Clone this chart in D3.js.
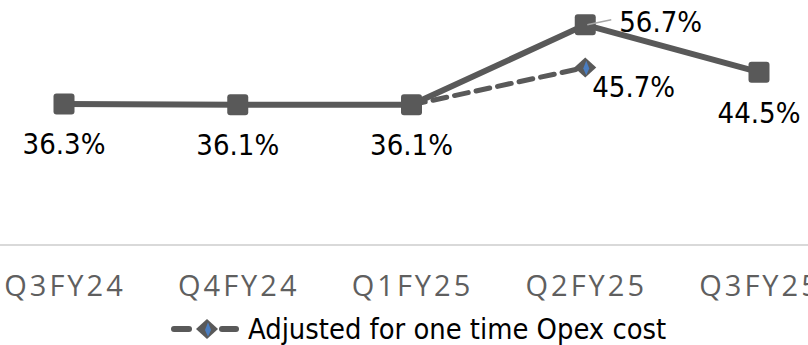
<!DOCTYPE html>
<html>
<head>
<meta charset="utf-8">
<script src="https://cdn.jsdelivr.net/npm/d3@7/dist/d3.min.js"></script>
<style>
  html, body { margin: 0; padding: 0; background: #fff; }
  svg { display: block; }
</style>
</head>
<body>
<svg id="chart" width="808" height="345"></svg>
<script>
// Quarterly ratio, reported vs. adjusted for one-time opex
const quarters = ["Q3FY24", "Q4FY24", "Q1FY25", "Q2FY25", "Q3FY25"];
const reported = [36.3, 36.1, 36.1, 56.7, 44.5];
const adjusted = [null, null, 36.1, 45.7, null];
const legendLabel = "Adjusted for one time Opex cost";

const svg = d3.select("#chart");
const grey = "#595959";

const x = d3.scalePoint().domain(quarters).range([64, 759]);
const y = d3.scaleLinear().domain([0, 60]).range([245, 12]);

// category axis baseline
svg.append("line")
  .attr("x1", 0).attr("x2", 808)
  .attr("y1", y(0)).attr("y2", y(0))
  .attr("stroke", "#d9d9d9").attr("stroke-width", 2);

// category labels
svg.append("g").selectAll("text").data(quarters).join("text")
  .attr("x", d => x(d) + 1)
  .attr("y", 296)
  .attr("text-anchor", "middle")
  .attr("font-family", "Open Sans, sans-serif")
  .attr("font-size", 29)
  .attr("letter-spacing", 3)
  .attr("fill", "#5f5f5f")
  .text(d => d);

// adjusted series (dashed)
const adjPts = quarters.map((q, i) => ({ q, v: adjusted[i] })).filter(d => d.v != null);
const line = d3.line().x(d => x(d.q)).y(d => y(d.v));
svg.append("path")
  .datum(adjPts)
  .attr("d", line)
  .attr("fill", "none")
  .attr("stroke", grey)
  .attr("stroke-width", 5)
  .attr("stroke-dasharray", "14,8")
  .attr("stroke-linecap", "round");

// reported series (solid)
const repPts = quarters.map((q, i) => ({ q, v: reported[i] }));
svg.append("path")
  .datum(repPts)
  .attr("d", line)
  .attr("fill", "none")
  .attr("stroke", grey)
  .attr("stroke-width", 6);

// square markers
const sq = 21;
svg.append("g").selectAll("rect").data(repPts).join("rect")
  .attr("x", d => x(d.q) - sq / 2)
  .attr("y", d => y(d.v) - sq / 2)
  .attr("width", sq).attr("height", sq)
  .attr("rx", 3)
  .attr("fill", grey);

// diamond marker drawing
function diamond(g, cx, cy, w, h) {
  g.append("path")
    .attr("d", `M${cx},${cy - h / 2}L${cx + w / 2},${cy}L${cx},${cy + h / 2}L${cx - w / 2},${cy}Z`)
    .attr("fill", grey);
  g.append("path")
    .attr("d", `M${cx + 1},${cy - h / 3}L${cx + 4},${cy + 1}L${cx + 1},${cy + h / 2.6}L${cx - 2},${cy + 1}Z`)
    .attr("fill", "#4a7dc0");
}
const adjMarks = svg.append("g");
adjPts.filter(d => d.q !== "Q1FY25").forEach(d => diamond(adjMarks, x(d.q), y(d.v), 22, 20));

// value labels
const labelFont = "DejaVu Sans Condensed, DejaVu Sans, sans-serif";
const repOffsets = [
  { dx: 0, dy: 50, anchor: "middle" },
  { dx: 0, dy: 50, anchor: "middle" },
  { dx: 0, dy: 50, anchor: "middle" },
  { dx: 34, dy: 7, anchor: "start" },
  { dx: 0, dy: 51, anchor: "middle" }
];
svg.append("g").selectAll("text").data(repPts).join("text")
  .attr("x", (d, i) => x(d.q) + repOffsets[i].dx)
  .attr("y", (d, i) => y(d.v) + repOffsets[i].dy)
  .attr("text-anchor", (d, i) => repOffsets[i].anchor)
  .attr("font-family", labelFont)
  .attr("font-size", 29)
  .attr("fill", "#000")
  .text(d => d.v.toFixed(1) + "%");

// leader line for the Q2FY25 label
const q2 = repPts[3];
svg.append("line")
  .attr("x1", x(q2.q) + 2).attr("y1", y(q2.v))
  .attr("x2", x(q2.q) + 26).attr("y2", y(q2.v) - 5)
  .attr("stroke", "#a6a6a6").attr("stroke-width", 1.5);

// adjusted value label
adjPts.filter(d => d.q !== "Q1FY25").forEach(d => {
  svg.append("text")
    .attr("x", x(d.q) + 7)
    .attr("y", y(d.v) + 29)
    .attr("font-family", labelFont)
    .attr("font-size", 29)
    .attr("fill", "#000")
    .text(d.v.toFixed(1) + "%");
});

// legend
const lg = svg.append("g");
lg.append("line").attr("x1", 174).attr("x2", 189).attr("y1", 329).attr("y2", 329)
  .attr("stroke", grey).attr("stroke-width", 6).attr("stroke-linecap", "round");
lg.append("line").attr("x1", 222).attr("x2", 236).attr("y1", 329).attr("y2", 329)
  .attr("stroke", grey).attr("stroke-width", 6).attr("stroke-linecap", "round");
diamond(lg, 207, 329, 22, 20);
lg.append("text")
  .attr("x", 248).attr("y", 339)
  .attr("font-family", labelFont)
  .attr("font-size", 28.8)
  .attr("fill", "#000")
  .text(legendLabel);
</script>
</body>
</html>
